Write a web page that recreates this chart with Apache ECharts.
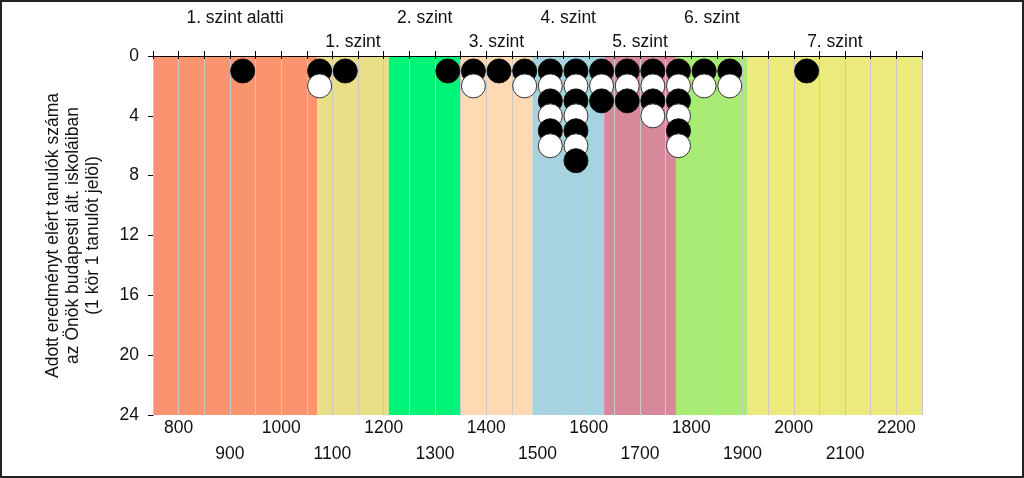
<!DOCTYPE html>
<html>
<head>
<meta charset="utf-8">
<script src="https://cdn.jsdelivr.net/npm/echarts@6/dist/echarts.min.js"></script>
<style>
  html, body { margin: 0; padding: 0; background: #fff; }
  #wrap { position: relative; width: 1024px; height: 478px; }
  #chart { width: 1024px; height: 478px; }
  #frame { position: absolute; left: 0; top: 0; width: 1024px; height: 478px;
           box-sizing: border-box; border: 2px solid #222; pointer-events: none; }
</style>
</head>
<body>
<div id="wrap">
  <div id="chart"></div>
  <div id="frame"></div>
</div>
<script>
// level bands (score limits) and names
var levelEdges = [750, 1070, 1210, 1350, 1490, 1630, 1770, 1910, 2250];
var levelNames = ["1. szint alatti", "1. szint", "2. szint", "3. szint",
  "4. szint", "5. szint", "6. szint", "7. szint"];
var levelColors = ["#f9946e", "#e8df87", "#00f578", "#ffd9b4",
  "#a6d2e2", "#d8889b", "#aaeb73", "#ecea7d"];

// score bins (centre of 50-point bins) and number of students in each
var binCenters = [925, 1075, 1125, 1325, 1375, 1425, 1475, 1525, 1575,
  1625, 1675, 1725, 1775, 1825, 1875, 2025];
var studentCounts = [1, 2, 1, 1, 2, 1, 2, 6, 7, 3, 3, 4, 6, 2, 2, 1];

var yTicks = [0, 4, 8, 12, 16, 20, 24];

var fontName = "'Liberation Sans', Arial, sans-serif";
var fontSize = 17.5;

var chartDom = document.getElementById("chart");
var chart = echarts.init(chartDom);

var bandData = [];
for (var i = 0; i < levelNames.length; i++) {
  bandData.push([
    {
      name: levelNames[i],
      xAxis: levelEdges[i],
      yAxis: 0,
      itemStyle: { color: levelColors[i], opacity: 1 },
      label: {
        show: true,
        position: "top",
        distance: i % 2 === 0 ? 29 : 5,
        color: "#111",
        fontSize: fontSize,
        fontFamily: fontName,
      },
    },
    { xAxis: levelEdges[i + 1], yAxis: 24 },
  ]);
}

var dots = [];
for (var j = 0; j < binCenters.length; j++) {
  for (var k = 1; k <= studentCounts[j]; k++) {
    var black = k % 2 === 1;
    dots.push({
      value: [binCenters[j], k],
      itemStyle: black
        ? { color: "#000", borderColor: "#111", borderWidth: 1, opacity: 1 }
        : { color: "#fff", borderColor: "#333", borderWidth: 1, opacity: 1 },
    });
  }
}

var option = {
  animation: false,
  grid: { left: 153, right: 102, top: 56, bottom: 63 },
  xAxis: [
    {
      type: "value",
      position: "bottom",
      min: 750,
      max: 2250,
      interval: 50,
      z: 2,
      axisLine: { lineStyle: { color: "#000", width: 1 } },
      axisTick: { show: true, length: 3, lineStyle: { color: "#000" } },
      axisLabel: {
        margin: 0,
        fontSize: fontSize,
        lineHeight: 26,
        color: "#111",
        fontFamily: fontName,
        formatter: function (v) {
          if (v % 200 === 0) return String(v);
          if (v % 100 === 0) return "\n" + v;
          return "";
        },
      },
      splitLine: { show: true, lineStyle: { color: "#c8c8c8", width: 1 } },
    },
    {
      type: "value",
      position: "top",
      min: 750,
      max: 2250,
      interval: 50,
      z: 2,
      axisLine: { lineStyle: { color: "#000", width: 1 } },
      axisTick: { show: true, length: 5, lineStyle: { color: "#000" } },
      axisLabel: { show: false },
      splitLine: { show: false },
    },
  ],
  yAxis: {
    type: "value",
    inverse: true,
    min: yTicks[0],
    max: yTicks[yTicks.length - 1],
    interval: 4,
    axisLine: { show: true, lineStyle: { color: "#000", width: 1 } },
    axisTick: { show: true, length: 5, lineStyle: { color: "#000" } },
    axisLabel: { margin: 14, fontSize: fontSize, color: "#111", fontFamily: fontName },
    splitLine: { show: false },
    name: "Adott eredményt elért tanulók száma\naz Önök budapesti ált. iskoláiban\n(1 kör 1 tanulót jelöl)",
    nameLocation: "middle",
    nameGap: 50,
    nameTextStyle: { fontSize: fontSize, lineHeight: 20, color: "#111", fontFamily: fontName },
  },
  series: [
    {
      type: "scatter",
      z: 1,
      data: [],
      silent: true,
      markArea: { silent: true, data: bandData },
    },
    {
      type: "scatter",
      z: 3,
      symbol: "circle",
      symbolSize: 24,
      itemStyle: { opacity: 1 },
      data: dots,
    },
  ],
};

chart.setOption(option);
</script>
</body>
</html>
